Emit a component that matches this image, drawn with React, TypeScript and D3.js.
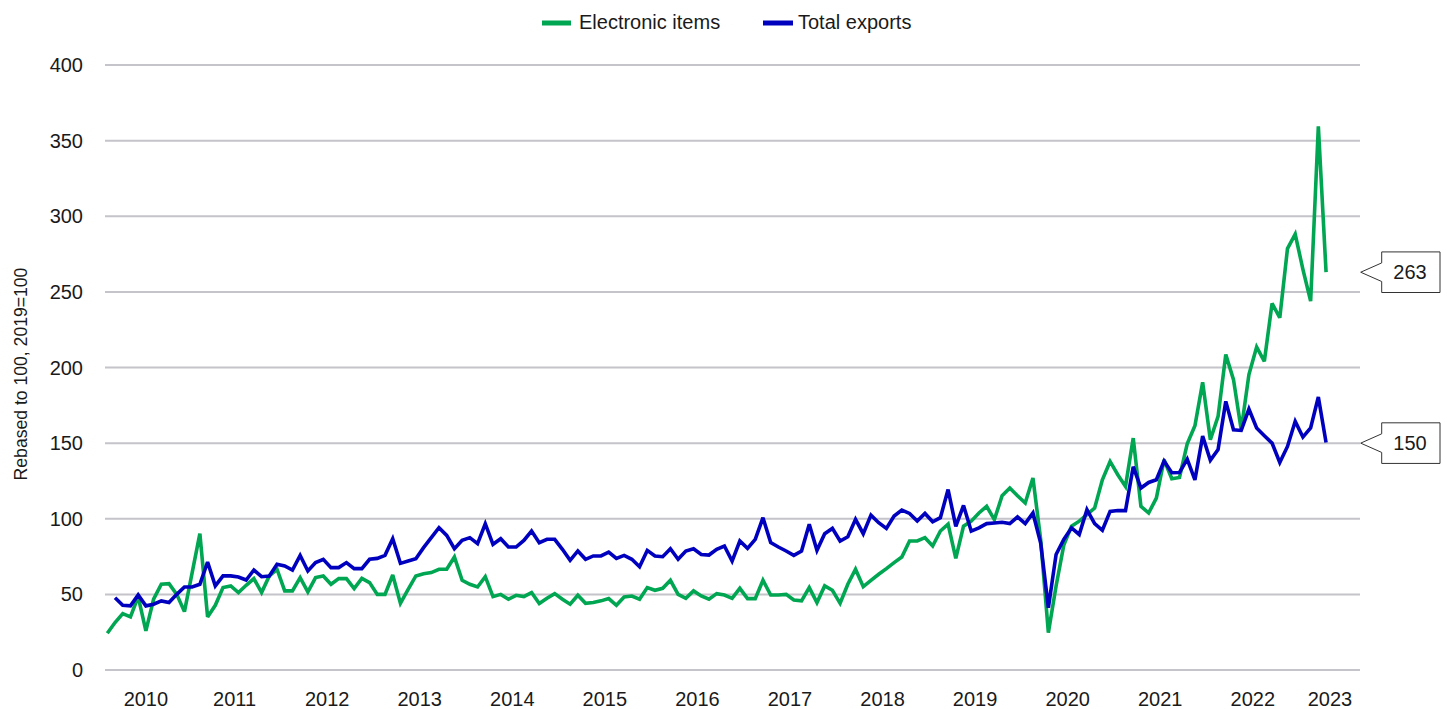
import React from "react";
import * as d3 from "d3";

// Monthly data, index 0 = Feb 2010, last = Apr 2023
const startYear = 2010;
const startMonth = 1; // 0-based month (Feb)

const electronicItems = [
  24.3, 31.4, 37.3, 35.1, 48.5, 25.9, 46.8, 56.7, 57.1, 50, 38.6, 64.4, 90.1, 35.1, 42.8, 54.5,
  55.6, 51.2, 56, 60.4, 51.2, 62.2, 66.6, 52.3, 52.3, 61.1, 51.6, 61.1, 62.2, 56.7, 60.4, 60.4,
  53.8, 60.6, 57.8, 50, 50, 62.8, 44.1, 53.3, 62.2, 63.7, 64.4, 66.6, 66.6, 74.7, 59.3, 56.7,
  54.9, 61.7, 48.5, 50, 46.8, 49.4, 48.5, 51.2, 43.9, 47.4, 50.5, 46.8, 43.5, 49.4, 44.1, 44.6,
  45.7, 47.2, 42.8, 48.3, 48.9, 46.8, 54.5, 52.7, 54, 59.3, 50, 47.4, 52.3, 49, 46.8, 50.5,
  49.6, 47.4, 54, 47.2, 47.2, 59.3, 49.6, 49.6, 50, 46.3, 45.7, 54.5, 44.6, 55.6, 52.7, 44.1,
  56.7, 66.6, 55.1, 59.3, 63.3, 67, 71, 74.7, 85.3, 85.3, 87.5, 82, 91.9, 96.5, 73.8, 95.1,
  98.4, 103.8, 108.2, 99.4, 115.2, 120.3, 115.2, 110.4, 126.9, 86.3, 24.7, 55.5, 82.6, 95.1, 98.4, 102.7,
  107.1, 125.8, 137.9, 129.1, 121.4, 153.3, 108.2, 103.8, 113.7, 139, 126.5, 127.3, 149.5, 161.5, 190.2, 152.2,
  167.7, 208.6, 192, 158.8, 195.3, 213.6, 204.1, 242.4, 232.9, 278.6, 288.1, 264.9, 243.9, 359.5, 263,
];

// starts one month later (Mar 2010)
const totalExports = [
  null, 47.8, 42.8, 42.4, 49.6, 42.4, 43.5, 45.7, 44.6, 50, 54.9, 54.9, 56.7, 71.4, 55.6, 62.2,
  62.2, 61.5, 59.5, 66.1, 61.7, 62.2, 69.9, 68.8, 66.1, 75.8, 65.5, 71, 73.2, 67.7, 67.7, 71,
  67, 67, 73.2, 73.8, 75.8, 86.8, 70.5, 72, 73.6, 80.9, 87.5, 94.1, 89, 80.2, 85.7, 87.5,
  83.5, 96.7, 83.1, 86.8, 81.3, 81.3, 85.7, 91.9, 84.2, 86.4, 86.4, 79.8, 72.5, 78.7, 73.2, 75.4,
  75.4, 78, 73.8, 75.8, 73.2, 68.3, 79.1, 75.4, 74.9, 80.2, 73.2, 78.7, 80.2, 76.4, 76, 79.8,
  82, 72, 85.3, 80.4, 86.4, 100.7, 84.2, 81.3, 78.7, 75.8, 78.7, 96.3, 79.1, 90.1, 93.6, 85.3,
  88.1, 99.6, 90.1, 102.4, 97.4, 93.6, 101.8, 105.7, 103.5, 98.5, 103.5, 98, 100.7, 119.3, 95, 108.8,
  91.8, 94, 96.8, 97.2, 97.7, 96.8, 101.2, 96.8, 103.8, 84, 41.2, 76.4, 86.3, 94, 89.6, 106,
  96.8, 92.4, 104.9, 105.4, 105.4, 134.4, 120.3, 124, 125.8, 138.2, 130.4, 130.6, 139.4, 125.7, 154.6, 138.6,
  145.8, 177.6, 158.8, 158.4, 172.5, 160, 154.9, 150, 137.2, 147.8, 164.4, 154, 160, 180.5, 150.4,
];

const yTicks = [0, 50, 100, 150, 200, 250, 300, 350, 400];
const yearLabels = [2010, 2011, 2012, 2013, 2014, 2015, 2016, 2017, 2018, 2019, 2020, 2021, 2022, 2023];
const seriesNames = ["Electronic items", "Total exports"];
const seriesColors = ["#00a651", "#0000bf"];
const callouts = [263, 150];
const yTitle = "Rebased to 100, 2019=100";

const FONT = "'Liberation Sans', Arial, Helvetica, sans-serif";

export default function App() {
  const W = 1447;
  const H = 709;
  const left = 105;
  const right = 1360;
  const top = 65;
  const bottom = 670;
  const lastIndex = 162; // axis extends to ~Aug 2023

  const x = d3.scaleLinear().domain([-0.3, 162.4]).range([left, right]);
  const y = d3.scaleLinear().domain([0, 400]).range([bottom, top]);

  const line = d3
    .line<number | null>()
    .defined((d) => d != null)
    .x((_, i) => x(i))
    .y((d) => y(d as number));

  const series = [electronicItems as (number | null)[], totalExports];

  const yearPos = yearLabels.map((yr) => {
    const jan = (yr - startYear) * 12 - startMonth;
    const a = Math.max(0, jan);
    const b = Math.min(lastIndex, jan + 11);
    return { yr, cx: x((a + b) / 2) };
  });

  const boxL = 1381.7;
  const boxR = 1440;
  const boxH = 40.6;
  const notch = 9.3;
  const tipX = 1360.7;

  return (
    <svg
      width={W}
      height={H}
      style={{ position: "absolute", left: 0, top: 0, background: "#fff" }}
      fontFamily={FONT}
    >
      {/* gridlines */}
      {yTicks.map((t) => (
        <g key={t}>
          <line x1={left} x2={right} y1={y(t)} y2={y(t)} stroke="#c4c4ca" strokeWidth={2} />
          <text x={83} y={y(t)} textAnchor="end" dominantBaseline="central" fontSize={20} fill="#1a1a1a">
            {t}
          </text>
        </g>
      ))}

      {/* y title */}
      <text
        transform={`translate(21, 374) rotate(-90)`}
        textAnchor="middle"
        dominantBaseline="central"
        fontSize={17.6}
        fill="#1a1a1a"
      >
        {yTitle}
      </text>

      {/* x labels */}
      {yearPos.map((p) => (
        <text key={p.yr} x={p.cx} y={699} textAnchor="middle" dominantBaseline="central" fontSize={20} fill="#1a1a1a">
          {p.yr}
        </text>
      ))}

      {/* lines */}
      {series.map((s, i) => (
        <path
          key={i}
          d={line(s) || ""}
          fill="none"
          stroke={seriesColors[i]}
          strokeWidth={3.6}
          strokeLinejoin="miter"
          strokeMiterlimit={3}
        />
      ))}

      {/* callouts */}
      {callouts.map((v) => {
        const cy = y(v);
        const t = cy - boxH / 2;
        const b = cy + boxH / 2;
        const d = `M${boxL},${t} L${boxR},${t} L${boxR},${b} L${boxL},${b} L${boxL},${cy + notch} L${tipX},${cy} L${boxL},${cy - notch} Z`;
        return (
          <g key={v}>
            <path d={d} fill="#fff" stroke="#333" strokeWidth={1} />
            <text x={1410} y={cy} textAnchor="middle" dominantBaseline="central" fontSize={20} fill="#1a1a1a">
              {v}
            </text>
          </g>
        );
      })}

      {/* legend */}
      <g>
        <line x1={542} x2={571} y1={23} y2={23} stroke={seriesColors[0]} strokeWidth={5} />
        <text x={579} y={22} dominantBaseline="central" fontSize={20} fill="#1a1a1a">
          {seriesNames[0]}
        </text>
        <line x1={763} x2={793} y1={23} y2={23} stroke={seriesColors[1]} strokeWidth={5} />
        <text x={798} y={22} dominantBaseline="central" fontSize={20} fill="#1a1a1a">
          {seriesNames[1]}
        </text>
      </g>
    </svg>
  );
}
